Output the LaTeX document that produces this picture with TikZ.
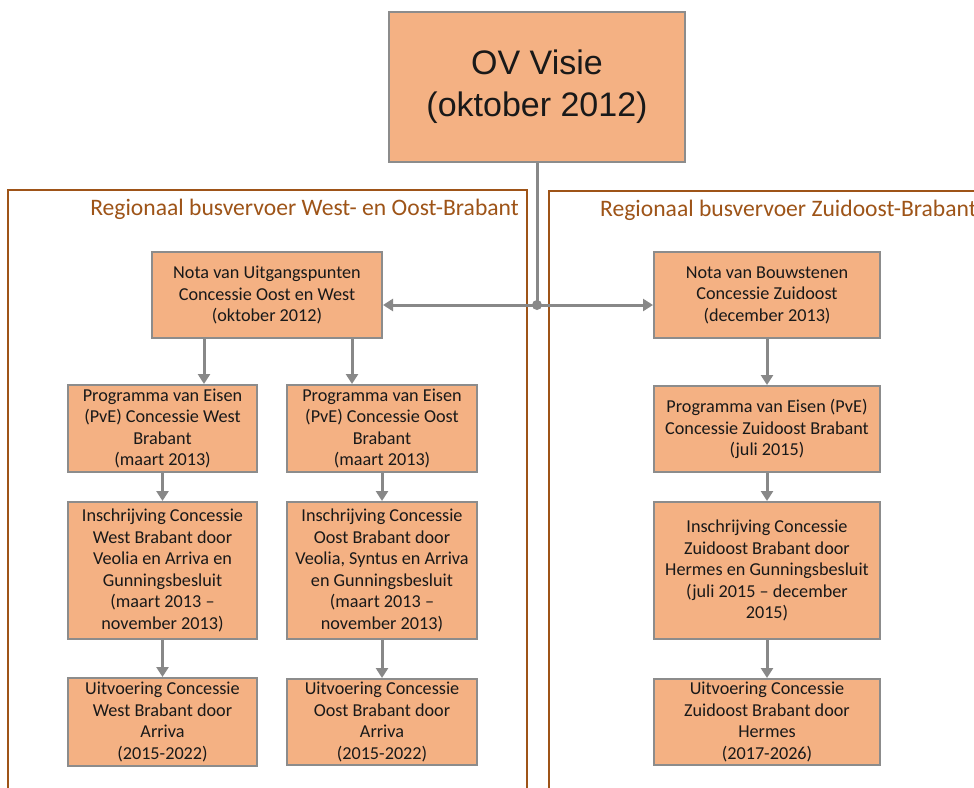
\documentclass[tikz,border=0pt]{standalone}
\usepackage{fontspec}
\setmainfont{Carlito}
\newfontfamily\arialfont{Liberation Sans}
\usetikzlibrary{arrows.meta}
\definecolor{boxfill}{HTML}{F4B183}
\definecolor{boxline}{HTML}{8C8C8C}
\definecolor{conn}{HTML}{888888}
\definecolor{framecol}{HTML}{9E5418}
\begin{document}
\begin{tikzpicture}[x=1pt,y=-1pt,
  stepbox/.style={draw=boxline, line width=2pt, fill=boxfill, align=center, inner sep=0pt,
    font=\fontsize{18.2}{21.5}\selectfont, text=black!90},
  arr/.style={draw=conn, line width=3pt, -{Triangle[length=10pt,width=12pt]}},
  connline/.style={draw=conn, line width=3pt},
  regionframe/.style={draw=framecol, line width=1.8pt},
  regionlabel/.style={text=framecol, font=\fontsize{23.6}{27}\selectfont, inner sep=0pt}]
\useasboundingbox (0,0) rectangle (974,787);
\clip (0,0) rectangle (974,787);
\fill[white] (0,0) rectangle (974,787);

% region frames
\draw[regionframe] (8,190) rectangle (527,800);
\draw[regionframe] (549,191) rectangle (995,800);
\node[regionlabel, anchor=base east] (labW) at (519,215.5) {Regionaal busvervoer West- en Oost-Brabant};
\node[regionlabel, anchor=base west] (labZ) at (600,216) {Regionaal busvervoer Zuidoost-Brabant};

% top box
\node[stepbox, minimum width=296pt, minimum height=150pt, font=\arialfont\fontsize{34}{42}\selectfont] (top) at (537,87) {OV Visie\\(oktober 2012)};

% notas
\node[stepbox, minimum width=230pt, minimum height=86pt] (notaL) at (267,295) {Nota van Uitgangspunten\\Concessie Oost en West\\(oktober 2012)};
\node[stepbox, minimum width=226pt, minimum height=86pt] (notaR) at (767,295) {Nota van Bouwstenen\\Concessie Zuidoost\\(december 2013)};

% PvE
\node[stepbox, minimum width=189pt, minimum height=87pt] (pveW) at (162.5,428.5) {Programma van Eisen\\(PvE) Concessie West\\Brabant\\(maart 2013)};
\node[stepbox, minimum width=190pt, minimum height=87pt] (pveO) at (382,428.5) {Programma van Eisen\\(PvE) Concessie Oost\\Brabant\\(maart 2013)};
\node[stepbox, minimum width=226pt, minimum height=86pt] (pveZ) at (767,429) {Programma van Eisen (PvE)\\Concessie Zuidoost Brabant\\(juli 2015)};

% Inschrijving
\node[stepbox, minimum width=189pt, minimum height=137pt] (insW) at (162.5,570.5) {Inschrijving Concessie\\West Brabant door\\Veolia en Arriva en\\Gunningsbesluit\\(maart 2013 --\\november 2013)};
\node[stepbox, minimum width=190pt, minimum height=137pt] (insO) at (382,570.5) {Inschrijving Concessie\\Oost Brabant door\\Veolia, Syntus en Arriva\\en Gunningsbesluit\\(maart 2013 --\\november 2013)};
\node[stepbox, minimum width=226pt, minimum height=137pt] (insZ) at (767,570.5) {Inschrijving Concessie\\Zuidoost Brabant door\\Hermes en Gunningsbesluit\\(juli 2015 -- december\\2015)};

% Uitvoering
\node[stepbox, minimum width=189pt, minimum height=88pt] (uitW) at (162.5,722) {Uitvoering Concessie\\West Brabant door\\Arriva\\(2015-2022)};
\node[stepbox, minimum width=190pt, minimum height=86pt] (uitO) at (382,722) {Uitvoering Concessie\\Oost Brabant door\\Arriva\\(2015-2022)};
\node[stepbox, minimum width=226pt, minimum height=86pt] (uitZ) at (767,722) {Uitvoering Concessie\\Zuidoost Brabant door\\Hermes\\(2017-2026)};

% connectors from top
\coordinate (J) at (537,305);
\draw[connline] (top.south) -- (J);
\draw[arr] (J) -- (J -| notaL.east);
\draw[arr] (J) -- (J -| notaR.west);
\fill[conn] (J) circle (5pt);

% left column
\coordinate (a1) at ([xshift=-63pt]notaL.south);
\coordinate (a2) at ([xshift=85pt]notaL.south);
\draw[arr] (a1) -- (a1 |- pveW.north);
\draw[arr] (a2) -- (a2 |- pveO.north);
\draw[arr] (pveW.south) -- (insW.north);
\draw[arr] (insW.south) -- (uitW.north);
\draw[arr] (pveO.south) -- (insO.north);
\draw[arr] (insO.south) -- (uitO.north);

% right column
\draw[arr] (notaR.south) -- (pveZ.north);
\draw[arr] (pveZ.south) -- (insZ.north);
\draw[arr] (insZ.south) -- (uitZ.north);
\end{tikzpicture}
\end{document}
